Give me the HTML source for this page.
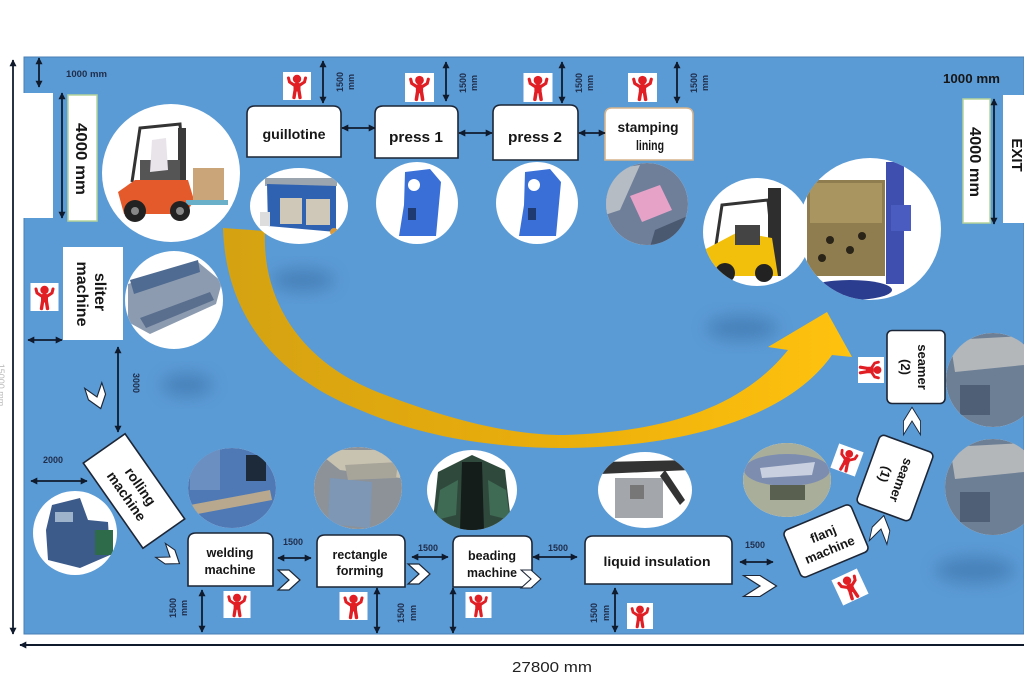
<!DOCTYPE html>
<html><head><meta charset="utf-8"><style>
html,body{margin:0;padding:0;background:#fff;}
svg{display:block;}
.d{stroke:#0f1b2d;stroke-width:1.8;fill:none;marker-start:url(#a);marker-end:url(#a);}
.bx{fill:#fff;stroke:#1c2636;stroke-width:1.6;}
.t{font-family:"Liberation Sans",sans-serif;font-weight:bold;fill:#161616;}
.s{font-family:"Liberation Sans",sans-serif;font-weight:bold;fill:#1f2d4a;font-size:9px;}
</style></head><body>
<svg width="1024" height="695" viewBox="0 0 1024 695" xmlns="http://www.w3.org/2000/svg">
<defs>
<marker id="a" viewBox="0 0 10 10" refX="9" refY="5" markerWidth="7" markerHeight="7" markerUnits="userSpaceOnUse" orient="auto-start-reverse"><path d="M0,0 L10,5 L0,10 z" fill="#0f1b2d"/></marker>
<linearGradient id="yg" gradientUnits="userSpaceOnUse" x1="220" y1="0" x2="850" y2="0"><stop offset="0" stop-color="#d4a212"/><stop offset="0.5" stop-color="#e9ad0c"/><stop offset="1" stop-color="#ffc20e"/></linearGradient>
<filter id="bl" x="-50%" y="-50%" width="200%" height="200%"><feGaussianBlur stdDeviation="8"/></filter>
<symbol id="p" viewBox="0 0 28 28">
<rect width="28" height="28" fill="#fff"/>
<g stroke="#e01e24" stroke-linecap="round" fill="#e01e24">
<circle cx="14" cy="7" r="4.2" stroke="none"/>
<rect x="10.5" y="11" width="7" height="8.5" rx="2" stroke="none"/>
<path d="M11,13 L6.5,10 L5.5,6" stroke-width="3" fill="none"/>
<path d="M17,13 L21.5,10 L22.5,6" stroke-width="3" fill="none"/>
<path d="M12,19 L11,25.5" stroke-width="3.4"/>
<path d="M16,19 L17,25.5" stroke-width="3.4"/>
</g>
</symbol>
<path id="ch" d="M-11,-10 L0,-10 L11,0 L0,10 L-11,10 L0,0 Z"/>
<clipPath id="c1"><circle cx="171" cy="173" r="69"/></clipPath>
<clipPath id="c2"><ellipse cx="299" cy="206" rx="49" ry="38"/></clipPath>
<clipPath id="c3"><circle cx="417" cy="203" r="41"/></clipPath>
<clipPath id="c4"><circle cx="537" cy="203" r="41"/></clipPath>
<clipPath id="c5"><circle cx="647" cy="204" r="41"/></clipPath>
<clipPath id="c6"><circle cx="757" cy="232" r="54"/></clipPath>
<clipPath id="c7"><circle cx="870" cy="229" r="71"/></clipPath>
<clipPath id="c8"><circle cx="174" cy="300" r="49"/></clipPath>
<clipPath id="c9"><circle cx="75" cy="533" r="42"/></clipPath>
<clipPath id="c10"><ellipse cx="232" cy="488" rx="44" ry="40"/></clipPath>
<clipPath id="c11"><ellipse cx="358" cy="488" rx="44" ry="41"/></clipPath>
<clipPath id="c12"><ellipse cx="472" cy="490" rx="45" ry="40"/></clipPath>
<clipPath id="c13"><ellipse cx="645" cy="490" rx="47" ry="38"/></clipPath>
<clipPath id="c14"><ellipse cx="787" cy="480" rx="44" ry="37"/></clipPath>
<clipPath id="c15"><circle cx="993" cy="380" r="47"/></clipPath>
<clipPath id="c16"><circle cx="993" cy="487" r="48"/></clipPath>
</defs>

<!-- background floor -->
<rect x="24" y="57" width="1000" height="577" fill="#5b9bd5" stroke="#4a7fb5" stroke-width="1"/>
<!-- blurred shadows -->
<ellipse cx="303" cy="280" rx="32" ry="12" fill="#2d5d94" opacity=".4" filter="url(#bl)"/>
<ellipse cx="187" cy="385" rx="26" ry="12" fill="#2d5d94" opacity=".4" filter="url(#bl)"/>
<ellipse cx="742" cy="328" rx="36" ry="13" fill="#2d5d94" opacity=".4" filter="url(#bl)"/>
<ellipse cx="975" cy="570" rx="40" ry="14" fill="#2d5d94" opacity=".4" filter="url(#bl)"/>

<!-- outer dimension lines -->
<line x1="13" y1="60" x2="13" y2="634" class="d"/>
<line x1="20" y1="645" x2="1030" y2="645" stroke="#0f1b2d" stroke-width="2" marker-start="url(#a)"/>
<text x="552" y="672" text-anchor="middle" font-family="Liberation Sans, sans-serif" font-size="15" fill="#222" textLength="80" lengthAdjust="spacingAndGlyphs">27800 mm</text>
<text transform="translate(-2,385) rotate(90)" text-anchor="middle" font-family="Liberation Sans, sans-serif" font-size="9" fill="#bbb">15000 mm</text>

<!-- yellow arrow -->
<path d="M223,228 L265,231 C262,300 300,362 380,393 C450,420 510,435 565,435 C660,432 740,410 788,350 L768,347 L827,312 L852,357 L832,355 C790,415 690,447 565,448 C490,448 420,436 360,410 C280,378 226,320 223,228 Z" fill="url(#yg)"/>

<!-- top-left -->
<line x1="39" y1="58" x2="39" y2="87" class="d"/>
<text x="66" y="77" class="s" textLength="41" lengthAdjust="spacingAndGlyphs">1000 mm</text>
<rect x="19" y="93" width="34" height="125" fill="#fff"/>
<line x1="62" y1="93" x2="62" y2="218" class="d"/>
<rect x="68" y="95" width="29" height="126" fill="#fff" stroke="#b5d39a" stroke-width="1.5"/>
<text transform="translate(76,159) rotate(90)" text-anchor="middle" class="t" font-size="16" textLength="72" lengthAdjust="spacingAndGlyphs">4000 mm</text>

<!-- forklift photo -->
<circle cx="171" cy="173" r="69" fill="#fff"/>
<g clip-path="url(#c1)">
<path d="M132,182 L140,128 L180,124 L184,178" stroke="#333" stroke-width="3" fill="none"/>
<rect x="178" y="128" width="8" height="80" fill="#3a3a3a"/>
<rect x="140" y="160" width="40" height="22" fill="#555"/>
<path d="M152,140 L166,138 L168,170 L150,172 Z" fill="#e8e4ea"/>
<path d="M118,192 L135,180 L188,180 L194,200 L186,214 L124,214 Z" fill="#e55a2b"/>
<rect x="193" y="168" width="31" height="33" fill="#caa57a"/>
<rect x="186" y="200" width="42" height="5" fill="#6ab0c8"/>
<circle cx="135" cy="211" r="11" fill="#222"/><circle cx="135" cy="211" r="4" fill="#888"/>
<circle cx="180" cy="211" r="10" fill="#222"/><circle cx="180" cy="211" r="4" fill="#888"/>
</g>

<!-- top row -->
<use href="#p" x="282" y="72" width="30" height="28"/>
<use href="#p" x="405" y="73" width="29" height="29"/>
<use href="#p" x="523" y="73" width="30" height="29"/>
<use href="#p" x="628" y="73" width="29" height="29"/>
<line x1="323" y1="61" x2="323" y2="103" class="d"/>
<line x1="446" y1="62" x2="446" y2="101" class="d"/>
<line x1="562" y1="62" x2="562" y2="103" class="d"/>
<line x1="677" y1="62" x2="677" y2="103" class="d"/>
<text transform="translate(343,82) rotate(-90)" text-anchor="middle" class="s">1500</text>
<text transform="translate(354,82) rotate(-90)" text-anchor="middle" class="s">mm</text>
<text transform="translate(466,83) rotate(-90)" text-anchor="middle" class="s">1500</text>
<text transform="translate(477,83) rotate(-90)" text-anchor="middle" class="s">mm</text>
<text transform="translate(582,83) rotate(-90)" text-anchor="middle" class="s">1500</text>
<text transform="translate(593,83) rotate(-90)" text-anchor="middle" class="s">mm</text>
<text transform="translate(697,83) rotate(-90)" text-anchor="middle" class="s">1500</text>
<text transform="translate(708,83) rotate(-90)" text-anchor="middle" class="s">mm</text>

<path d="M247,157 V114 Q247,106 255,106 H333 Q341,106 341,114 V157 Z" class="bx"/>
<text x="294" y="139" text-anchor="middle" class="t" font-size="14" textLength="63" lengthAdjust="spacingAndGlyphs">guillotine</text>
<path d="M375,158 V114 Q375,106 383,106 H450 Q458,106 458,114 V158 Z" class="bx"/>
<text x="416" y="142" text-anchor="middle" class="t" font-size="15" textLength="54" lengthAdjust="spacingAndGlyphs">press 1</text>
<path d="M493,160 V113 Q493,105 501,105 H570 Q578,105 578,113 V160 Z" class="bx"/>
<text x="535" y="142" text-anchor="middle" class="t" font-size="15" textLength="54" lengthAdjust="spacingAndGlyphs">press 2</text>
<path d="M605,160 V115 Q605,108 612,108 H686 Q693,108 693,115 V160 Z" fill="#fff" stroke="#d7b48c" stroke-width="1.6"/>
<text x="648" y="132" text-anchor="middle" class="t" font-size="14" textLength="61" lengthAdjust="spacingAndGlyphs">stamping</text>
<text x="650" y="150" text-anchor="middle" class="t" font-size="14" textLength="28" lengthAdjust="spacingAndGlyphs">lining</text>
<line x1="342" y1="128" x2="375" y2="128" class="d"/>
<line x1="459" y1="133" x2="492" y2="133" class="d"/>
<line x1="579" y1="133" x2="605" y2="133" class="d"/>

<!-- top photos -->
<ellipse cx="299" cy="206" rx="49" ry="38" fill="#fff"/>
<g clip-path="url(#c2)">
<rect x="265" y="178" width="72" height="8" fill="#9aa5b0"/>
<path d="M267,184 L336,186 L336,232 L268,226 Z" fill="#2f62b0"/>
<rect x="280" y="198" width="22" height="26" fill="#cfc8b8"/>
<rect x="306" y="199" width="24" height="26" fill="#cfc8b8"/>
<rect x="260" y="212" width="10" height="14" fill="#ddd"/>
<circle cx="334" cy="232" r="4" fill="#d99a3a"/>
</g>
<circle cx="417" cy="203" r="41" fill="#fff"/>
<g clip-path="url(#c3)">
<path d="M405,172 L430,169 L441,182 L436,236 L399,236 L404,205 Z" fill="#3a6fd8"/>
<circle cx="414" cy="185" r="6" fill="#fff"/>
<rect x="408" y="208" width="8" height="12" fill="#1e3a70"/>
</g>
<circle cx="537" cy="203" r="41" fill="#fff"/>
<g clip-path="url(#c4)">
<path d="M525,172 L550,169 L561,182 L556,236 L519,236 L524,205 Z" fill="#3a6fd8"/>
<circle cx="534" cy="185" r="6" fill="#fff"/>
<rect x="528" y="208" width="8" height="12" fill="#1e3a70"/>
</g>
<circle cx="647" cy="204" r="41" fill="#fff"/>
<g clip-path="url(#c5)">
<rect x="605" y="162" width="85" height="85" fill="#6f7f99"/>
<path d="M606,170 L640,165 L620,210 L605,215 Z" fill="#b6bcc4"/>
<path d="M630,196 L660,185 L672,210 L642,222 Z" fill="#e7a2c8"/>
<path d="M655,230 L690,215 L690,247 L650,247 Z" fill="#4a5870"/>
</g>
<circle cx="757" cy="232" r="54" fill="#fff"/>
<g clip-path="url(#c6)">
<path d="M716,245 L722,205 L768,200 L772,240" stroke="#333" stroke-width="3" fill="none"/>
<rect x="768" y="188" width="13" height="88" fill="#2e2e2e"/>
<path d="M704,250 L738,232 L772,238 L778,276 L710,276 Z" fill="#f2bf0a"/>
<rect x="735" y="225" width="25" height="20" fill="#444"/>
<circle cx="725" cy="273" r="10" fill="#222"/><circle cx="764" cy="273" r="9" fill="#222"/>
</g>
<circle cx="870" cy="229" r="71" fill="#fff"/>
<g clip-path="url(#c7)">
<rect x="807" y="180" width="78" height="96" fill="#8f7d4f"/>
<rect x="810" y="183" width="72" height="40" fill="#a8955f"/>
<circle cx="830" cy="240" r="4" fill="#2a2418"/><circle cx="850" cy="250" r="4" fill="#2a2418"/><circle cx="822" cy="258" r="4" fill="#2a2418"/><circle cx="862" cy="236" r="4" fill="#2a2418"/>
<rect x="886" y="162" width="18" height="122" fill="#3e4fb0"/>
<rect x="891" y="205" width="20" height="26" fill="#4a5cc0"/>
<ellipse cx="850" cy="290" rx="42" ry="10" fill="#2a3d8f"/>
</g>

<!-- top-right -->
<text x="943" y="83" class="t" font-size="13" fill="#1f2d4a" textLength="57" lengthAdjust="spacingAndGlyphs">1000 mm</text>
<rect x="963" y="99" width="27" height="124" fill="#fff" stroke="#b5d39a" stroke-width="1.5"/>
<text transform="translate(970,162) rotate(90)" text-anchor="middle" class="t" font-size="16" textLength="70" lengthAdjust="spacingAndGlyphs">4000 mm</text>
<line x1="994" y1="99" x2="994" y2="224" class="d"/>
<rect x="1003" y="95" width="30" height="128" fill="#fff"/>
<text transform="translate(1012,155) rotate(90)" text-anchor="middle" class="t" font-size="15">EXIT</text>

<!-- sliter -->
<use href="#p" x="30" y="283" width="29" height="28"/>
<rect x="63" y="247" width="60" height="93" fill="#fff"/>
<text transform="translate(95,292) rotate(90)" text-anchor="middle" class="t" font-size="16">sliter</text>
<text transform="translate(77,294) rotate(90)" text-anchor="middle" class="t" font-size="16">machine</text>
<line x1="28" y1="340" x2="62" y2="340" class="d"/>
<circle cx="174" cy="300" r="49" fill="#fff"/>
<g clip-path="url(#c8)">
<path d="M128,284 L198,262 L222,282 L216,304 L150,334 L128,322 Z" fill="#8c9bb0"/>
<path d="M130,280 L198,260 L200,272 L134,294 Z" fill="#4f6b91"/>
<path d="M140,318 L210,292 L214,300 L146,328 Z" fill="#5a6f8e"/>
</g>
<line x1="118" y1="347" x2="118" y2="432" class="d"/>
<text transform="translate(133,383) rotate(90)" text-anchor="middle" class="s">3000</text>
<use href="#ch" transform="translate(97,397) rotate(72) scale(1.1,0.9)" fill="#fff" stroke="#1c2636" stroke-width="1.2"/>

<!-- rolling -->
<text x="43" y="463" class="s">2000</text>
<line x1="31" y1="481" x2="87" y2="481" class="d"/>
<g transform="translate(134,491) rotate(55)">
<rect x="-52" y="-25.5" width="104" height="51" class="bx"/>
<text x="0" y="-3" text-anchor="middle" class="t" font-size="14">rolling</text>
<text x="0" y="14" text-anchor="middle" class="t" font-size="14">machine</text>
</g>
<circle cx="75" cy="533" r="42" fill="#fff"/>
<g clip-path="url(#c9)">
<path d="M52,505 L80,498 L88,520 L108,522 L110,555 L80,568 L48,560 L46,530 Z" fill="#3c5a8a"/>
<rect x="95" y="530" width="18" height="25" fill="#2d6b4a"/>
<rect x="55" y="512" width="18" height="10" fill="#9db3cc"/>
</g>

<!-- welding -->
<ellipse cx="232" cy="488" rx="44" ry="40" fill="#fff"/>
<g clip-path="url(#c10)">
<rect x="185" y="445" width="95" height="90" fill="#4f79b5"/>
<path d="M190,505 L270,490 L272,500 L192,515 Z" fill="#b8a88e"/>
<rect x="246" y="455" width="20" height="26" fill="#1d2a3a"/>
<rect x="190" y="450" width="30" height="40" fill="#6b8fc0"/>
</g>
<path d="M188,586 V541 Q188,533 196,533 H265 Q273,533 273,541 V586 Z" class="bx"/>
<text x="230" y="557" text-anchor="middle" class="t" font-size="13" textLength="47" lengthAdjust="spacingAndGlyphs">welding</text>
<text x="230" y="574" text-anchor="middle" class="t" font-size="13" textLength="51" lengthAdjust="spacingAndGlyphs">machine</text>
<use href="#ch" transform="translate(170,557) rotate(35) scale(1.05,0.85)" fill="#fff" stroke="#1c2636" stroke-width="1.2"/>
<use href="#ch" transform="translate(289,580)" fill="#fff" stroke="#1c2636" stroke-width="1.2"/>
<text x="283" y="545" class="s">1500</text>
<line x1="278" y1="558" x2="311" y2="558" class="d"/>
<use href="#p" x="222" y="591" width="30" height="27"/>
<line x1="202" y1="590" x2="202" y2="632" class="d"/>
<text transform="translate(176,608) rotate(-90)" text-anchor="middle" class="s">1500</text>
<text transform="translate(187,608) rotate(-90)" text-anchor="middle" class="s">mm</text>

<!-- rectangle forming -->
<ellipse cx="358" cy="488" rx="44" ry="41" fill="#fff"/>
<g clip-path="url(#c11)">
<rect x="312" y="445" width="92" height="90" fill="#8c9298"/>
<path d="M315,450 L400,450 L400,478 L340,470 Z" fill="#c8c2b0"/>
<path d="M330,478 L372,482 L370,528 L328,524 Z" fill="#7d97b5"/>
<path d="M345,465 L398,462 L396,478 L348,480 Z" fill="#a7a49a"/>
</g>
<path d="M317,587 V543 Q317,535 325,535 H397 Q405,535 405,543 V587 Z" class="bx"/>
<text x="360" y="559" text-anchor="middle" class="t" font-size="13" textLength="55" lengthAdjust="spacingAndGlyphs">rectangle</text>
<text x="360" y="575" text-anchor="middle" class="t" font-size="13" textLength="47" lengthAdjust="spacingAndGlyphs">forming</text>
<use href="#ch" transform="translate(419,574)" fill="#fff" stroke="#1c2636" stroke-width="1.2"/>
<text x="418" y="551" class="s">1500</text>
<line x1="412" y1="557" x2="448" y2="557" class="d"/>
<use href="#p" x="339" y="592" width="29" height="28"/>
<line x1="377" y1="588" x2="377" y2="633" class="d"/>
<text transform="translate(404,613) rotate(-90)" text-anchor="middle" class="s">1500</text>
<text transform="translate(416,613) rotate(-90)" text-anchor="middle" class="s">mm</text>

<!-- beading -->
<ellipse cx="472" cy="490" rx="45" ry="40" fill="#fff"/>
<g clip-path="url(#c12)">
<path d="M438,472 L472,455 L505,470 L512,530 L432,530 Z" fill="#2f4a3d"/>
<path d="M462,462 L482,462 L484,530 L460,530 Z" fill="#151d1a"/>
<path d="M440,490 L458,480 L456,515 L436,520 Z" fill="#3f6b55"/>
<path d="M488,480 L506,490 L510,520 L490,515 Z" fill="#3f6b55"/>
</g>
<path d="M453,587 V544 Q453,536 461,536 H524 Q532,536 532,544 V587 Z" class="bx"/>
<text x="492" y="560" text-anchor="middle" class="t" font-size="13" textLength="48" lengthAdjust="spacingAndGlyphs">beading</text>
<text x="492" y="577" text-anchor="middle" class="t" font-size="13" textLength="50" lengthAdjust="spacingAndGlyphs">machine</text>
<use href="#ch" transform="translate(531,579) scale(0.9,0.9)" fill="#fff" stroke="#1c2636" stroke-width="1.2"/>
<use href="#p" x="464" y="592" width="29" height="26"/>
<line x1="453" y1="588" x2="453" y2="633" class="d"/>
<text x="548" y="551" class="s">1500</text>
<line x1="533" y1="557" x2="577" y2="557" class="d"/>

<!-- liquid insulation -->
<ellipse cx="645" cy="490" rx="47" ry="38" fill="#fff"/>
<g clip-path="url(#c13)">
<path d="M600,462 L690,460 L690,470 L600,474 Z" fill="#333"/>
<rect x="615" y="478" width="48" height="40" fill="#a3a7ab"/>
<rect x="630" y="485" width="14" height="14" fill="#777"/>
<path d="M665,470 L685,500 L680,505 L660,476 Z" fill="#333"/>
</g>
<path d="M585,584 V544 Q585,536 593,536 H724 Q732,536 732,544 V584 Z" class="bx"/>
<text x="657" y="566" text-anchor="middle" class="t" font-size="13" textLength="107" lengthAdjust="spacingAndGlyphs">liquid insulation</text>
<line x1="615" y1="588" x2="615" y2="632" class="d"/>
<text transform="translate(597,613) rotate(-90)" text-anchor="middle" class="s">1500</text>
<text transform="translate(609,613) rotate(-90)" text-anchor="middle" class="s">mm</text>
<use href="#p" x="625" y="603" width="30" height="26"/>
<text x="745" y="548" class="s">1500</text>
<line x1="740" y1="562" x2="773" y2="562" class="d"/>
<use href="#ch" transform="translate(760,586) scale(1.5,1.05)" fill="#fff" stroke="#1c2636" stroke-width="1"/>

<!-- flanj -->
<ellipse cx="787" cy="480" rx="44" ry="37" fill="#fff"/>
<g clip-path="url(#c14)">
<rect x="740" y="440" width="95" height="80" fill="#a9ae9a"/>
<ellipse cx="787" cy="470" rx="43" ry="16" fill="#7d8db0"/>
<path d="M760,468 L815,462 L812,475 L762,478 Z" fill="#c9d0e0"/>
<rect x="770" y="485" width="35" height="15" fill="#5a6050"/>
</g>
<g transform="translate(826,541) rotate(-22.7)">
<rect x="-36.5" y="-25.5" width="73" height="51" rx="5" class="bx"/>
<text x="0" y="-3" text-anchor="middle" class="t" font-size="13">flanj</text>
<text x="0" y="14" text-anchor="middle" class="t" font-size="13">machine</text>
</g>
<use href="#p" transform="translate(850,587) rotate(-25) translate(-15,-14)" width="30" height="28"/>
<use href="#ch" transform="translate(881,529) rotate(-78) scale(1.25,0.9)" fill="#fff" stroke="#1c2636" stroke-width="1"/>

<!-- seamer 1 -->
<g transform="translate(895,478) rotate(110)">
<rect x="-36.5" y="-28.5" width="73" height="57" rx="5" class="bx"/>
<text x="0" y="-2" text-anchor="middle" class="t" font-size="13">seamer</text>
<text x="0" y="15" text-anchor="middle" class="t" font-size="13">(1)</text>
</g>
<use href="#p" transform="translate(847,460) rotate(20) translate(-14,-13)" width="28" height="26"/>
<use href="#ch" transform="translate(912,421) rotate(-90) scale(1.25,0.85)" fill="#fff" stroke="#1c2636" stroke-width="1"/>

<!-- seamer 2 -->
<g transform="translate(916,367) rotate(90)">
<rect x="-36.5" y="-29" width="73" height="58" rx="5" class="bx"/>
<text x="0" y="-2" text-anchor="middle" class="t" font-size="13">seamer</text>
<text x="0" y="15" text-anchor="middle" class="t" font-size="13">(2)</text>
</g>
<use href="#p" transform="translate(871,370) rotate(90) translate(-14,-13)" width="28" height="26"/>

<!-- seamer photos -->
<circle cx="993" cy="380" r="47" fill="#fff"/>
<g clip-path="url(#c15)">
<rect x="944" y="330" width="95" height="100" fill="#6d7f95"/>
<path d="M950,340 L1024,336 L1024,365 L955,372 Z" fill="#b3b7ba"/>
<rect x="960" y="385" width="30" height="30" fill="#4f5f75"/>
</g>
<circle cx="993" cy="487" r="48" fill="#fff"/>
<g clip-path="url(#c16)">
<rect x="944" y="437" width="95" height="100" fill="#6d7f95"/>
<path d="M950,447 L1024,443 L1024,472 L955,479 Z" fill="#b3b7ba"/>
<rect x="960" y="492" width="30" height="30" fill="#4f5f75"/>
</g>
</svg>
</body></html>
